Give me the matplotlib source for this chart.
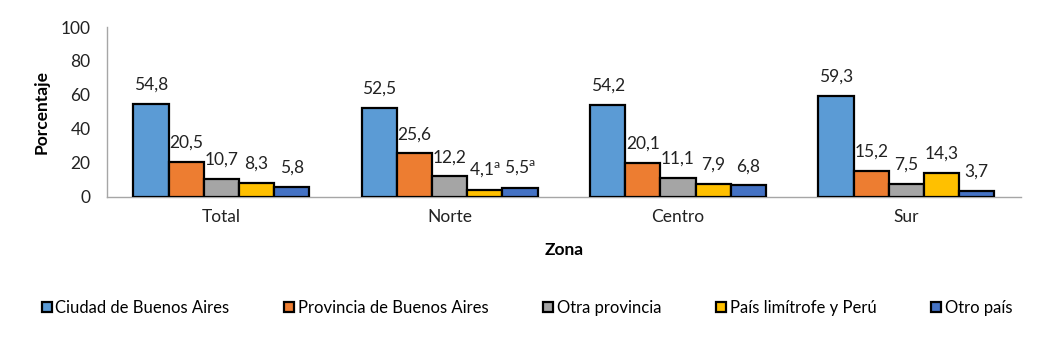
import matplotlib
matplotlib.use('Agg')
import matplotlib.pyplot as plt
import numpy as np

plt.rcParams['font.family'] = ['Lato', 'DejaVu Sans']
plt.rcParams['mathtext.fontset'] = 'custom'
plt.rcParams['mathtext.rm'] = 'Lato'
plt.rcParams['mathtext.it'] = 'Lato'

zonas = ['Total', 'Norte', 'Centro', 'Sur']
series = ['Ciudad de Buenos Aires', 'Provincia de Buenos Aires', 'Otra provincia',
          'País limítrofe y Perú', 'Otro país']
ciudad = [54.8, 52.5, 54.2, 59.3]
provincia = [20.5, 25.6, 20.1, 15.2]
otra_prov = [10.7, 12.2, 11.1, 7.5]
limitrofe = [8.3, 4.1, 7.9, 14.3]
otro_pais = [5.8, 5.5, 6.8, 3.7]
# notas "a" (coeficiente de variación alto)
notas = [[False] * 4, [False] * 4, [False] * 4,
         [False, True, False, False], [False, True, False, False]]

valores = [ciudad, provincia, otra_prov, limitrofe, otro_pais]
colores = ['#5B9BD5', '#ED7D31', '#A5A5A5', '#FFC000', '#4472C4']

fig = plt.figure(figsize=(10.5, 3.53), dpi=100)
ax = fig.add_axes([0.102, 0.442, 0.870, 0.4815])

x = np.arange(len(zonas))
w = 0.154
for i, (vals, col) in enumerate(zip(valores, colores)):
    pos = x + (i - 2) * w
    ax.bar(pos, vals, w, color=col, edgecolor='black', linewidth=1.6,
           label=series[i], zorder=3)
    for j, (p, v) in enumerate(zip(pos, vals)):
        s = ('%.1f' % v).replace('.', ',')
        if notas[i][j]:
            s = s + r'$^{\mathrm{a}}$'
        ax.annotate(s, (p, v), xytext=(0, 8), textcoords='offset points',
                    ha='center', va='bottom', fontsize=12.5, color='#222222')

ax.set_xlim(-0.5, 3.5)
ax.set_ylim(0, 100)
ax.set_yticks([0, 20, 40, 60, 80, 100])
ax.set_xticks(x)
ax.set_xticklabels(zonas)
ax.tick_params(axis='both', length=0, labelsize=12.5, colors='#222222')
ax.tick_params(axis='x', pad=9)
ax.tick_params(axis='y', pad=12)
for s in ['top', 'right']:
    ax.spines[s].set_visible(False)
for s in ['left', 'bottom']:
    ax.spines[s].set_color('#A6A6A6')
    ax.spines[s].set_linewidth(1.0)

ax.set_ylabel('Porcentaje', fontsize=12.5, fontweight='bold', labelpad=8)
ax.set_xlabel('Zona', fontsize=12.5, fontweight='bold', labelpad=12)

leg = fig.legend(loc='center', bbox_to_anchor=(0.502, 0.128), ncol=5, frameon=False,
                 fontsize=12, handlelength=0.6, handleheight=0.6, handletextpad=0.2,
                 columnspacing=3.3)

fig.savefig('out.png', dpi=100)
